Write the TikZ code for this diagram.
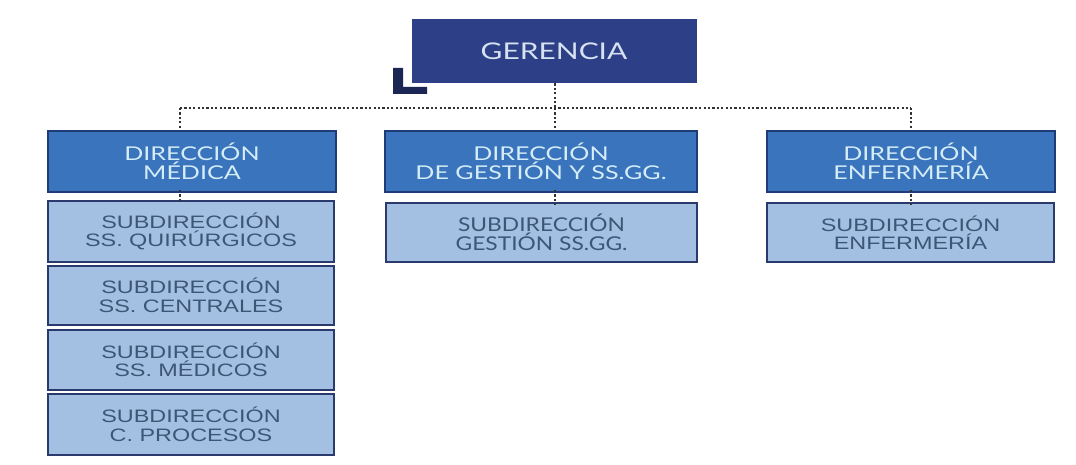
\documentclass[tikz,border=0pt]{standalone}
\usepackage{fontspec}
\setmainfont{Liberation Sans}
\newfontfamily\gerfont[FakeStretch=1.3]{Lato}
\newfontfamily\gillfont[FakeStretch=1.32]{Lato}
\newfontfamily\gillsub[FakeStretch=1.2]{Lato}
\newfontfamily\arialwide[FakeStretch=1.3]{Liberation Sans}
\definecolor{navy}{HTML}{2D3F86}
\definecolor{navytext}{HTML}{D6E2F2}
\definecolor{dirfill}{HTML}{3A74BC}
\definecolor{dirline}{HTML}{1F3C78}
\definecolor{dirtext}{HTML}{D5EDF8}
\definecolor{subfill}{HTML}{A3BFE2}
\definecolor{subline}{HTML}{2A3A6C}
\definecolor{subtext}{HTML}{3E5676}
\definecolor{dotc}{HTML}{333333}
\definecolor{lmark}{HTML}{1C2654}
\tikzset{
  x=1pt, y=-1pt,
  gerbox/.style={draw=navy, fill=navy, line width=1pt, text=navytext,
    font=\gerfont\fontsize{23}{25}\selectfont, inner sep=0pt},
  dirbox/.style={draw=dirline, fill=dirfill, line width=2pt, text=dirtext,
    font=\gillfont\fontsize{19}{16}\selectfont, align=center, inner sep=0pt},
  subbox/.style={draw=subline, fill=subfill, line width=2pt, text=subtext,
    font=\arialwide\fontsize{18}{18.5}\selectfont, align=center, inner sep=0pt},
  subgill/.style={subbox, font=\gillsub\fontsize{19}{17}\selectfont},
  link/.style={draw=dotc, line width=1.7pt, dash pattern=on 2.2pt off 2.2pt},
}
\begin{document}
\begin{tikzpicture}
\fill[white] (0,0) rectangle (1076,465);
\useasboundingbox (0,0) rectangle (1076,465);

\node[gerbox, minimum width=284pt, minimum height=63pt] (ger) at (554,51.5) {GERENCIA};
\fill[lmark] (393,68) -- (403,68) -- (403,87) -- (427,87) -- (427,94) -- (393,94) -- cycle;

\node[dirbox, minimum width=288pt, minimum height=61pt] (dm) at (192,161.5) {DIRECCIÓN\\MÉDICA};
\node[dirbox, minimum width=312pt, minimum height=61pt] (dg) at (541,161.5) {DIRECCIÓN\\DE GESTIÓN Y SS.GG.};
\node[dirbox, minimum width=288pt, minimum height=61pt] (de) at (911,161.5) {DIRECCIÓN\\ENFERMERÍA};

\node[subbox, minimum width=286pt, minimum height=61pt] (s1) at (191,231.5) {SUBDIRECCIÓN\\SS. QUIRÚRGICOS};
\node[subbox, minimum width=286pt, minimum height=59pt] (s2) at (191,295.5) {SUBDIRECCIÓN\\SS. CENTRALES};
\node[subbox, minimum width=286pt, minimum height=60pt] (s3) at (191,360) {SUBDIRECCIÓN\\SS. MÉDICOS};
\node[subbox, minimum width=286pt, minimum height=61pt] (s4) at (191,424.5) {SUBDIRECCIÓN\\C. PROCESOS};
\node[subgill, minimum width=311pt, minimum height=59pt] (sg) at (541.5,232.5) {SUBDIRECCIÓN\\GESTIÓN SS.GG.};
\node[subbox, minimum width=287pt, minimum height=59pt] (se) at (910.5,232.5) {SUBDIRECCIÓN\\ENFERMERÍA};

\coordinate (bm) at (180,108);
\coordinate (bc) at (555,108);
\coordinate (be) at (911,108);

\draw[link] (ger.south -| bc) -- (bc);
\draw[link] (bm) -- (be);
\draw[link] (bm) -- (bm |- dm.north);
\draw[link] (bc) -- (bc |- dg.north);
\draw[link] (be) -- (be |- de.north);
\draw[link] ([yshift=3pt]dm.south -| bm) -- ([yshift=-3pt]s1.north -| bm);
\draw[link] ([yshift=3pt]dg.south -| bc) -- ([yshift=-3pt]sg.north -| bc);
\draw[link] ([yshift=3pt]de.south -| be) -- ([yshift=-3pt]se.north -| be);
\end{tikzpicture}
\end{document}
